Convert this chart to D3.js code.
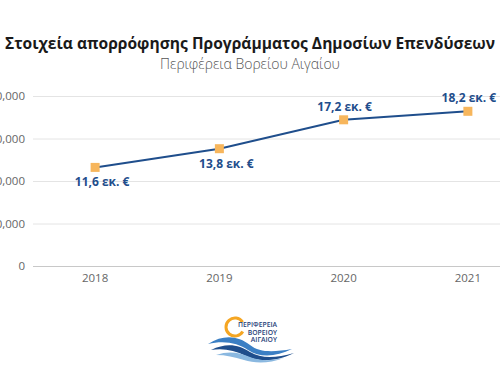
<!DOCTYPE html>
<html>
<head>
<meta charset="utf-8">
<script src="https://cdn.jsdelivr.net/npm/d3@7"></script>
<style>
  body { margin: 0; background: #fff; }
  svg text { font-family: "Open Sans", "Noto Sans", sans-serif; }
</style>
</head>
<body>
<svg id="chart" width="500" height="374"></svg>
<script>
var years = ['2018', '2019', '2020', '2021'];
var values = [11600000, 13800000, 17200000, 18200000];
var labels = ['11,6 εκ. €', '13,8 εκ. €', '17,2 εκ. €', '18,2 εκ. €'];
var yTicks = [0, 5000000, 10000000, 15000000, 20000000];

var svg = d3.select('#chart');
var mLeft = 33, mRight = 530, mTop = 96, mBottom = 266;

var x = d3.scaleBand().domain(years).range([mLeft, mRight]);
var y = d3.scaleLinear().domain([0, 20000000]).range([mBottom, mTop]);
var cx = function(d) { return x(d) + x.bandwidth() / 2; };

// title
svg.append('text').attr('x', 250).attr('y', 49).attr('text-anchor', 'middle')
    .attr('font-size', 16).attr('font-weight', 700).attr('fill', '#1a1a1a')
    .attr('textLength', 490).attr('lengthAdjust', 'spacingAndGlyphs')
    .text('Στοιχεία απορρόφησης Προγράμματος Δημοσίων Επενδύσεων');
svg.append('text').attr('x', 250).attr('y', 69).attr('text-anchor', 'middle')
    .attr('font-size', 14).attr('font-weight', 300).attr('fill', '#555')
    .text('Περιφέρεια Βορείου Αιγαίου');

// grid + y axis
var yAxis = d3.axisLeft(y).tickValues(yTicks).tickSize(-(mRight - mLeft))
    .tickFormat(d3.format(',')).tickPadding(8);
var gy = svg.append('g').attr('transform', 'translate(' + mLeft + ',0)').call(yAxis);
gy.select('.domain').remove();
gy.selectAll('.tick line').attr('stroke', function(d) { return d === 0 ? '#c8c8c8' : '#e4e4e4'; });
gy.selectAll('.tick text').attr('fill', '#666').attr('font-size', 11.5);

// x axis labels
var xAxis = d3.axisBottom(x).tickSize(0).tickPadding(8);
var gx = svg.append('g').attr('transform', 'translate(0,' + mBottom + ')').call(xAxis);
gx.select('.domain').remove();
gx.selectAll('.tick text').attr('fill', '#666').attr('font-size', 11.5);

// line
var pts = years.map(function(d, i) { return [cx(d), y(values[i])]; });
svg.append('path').datum(pts)
    .attr('d', d3.line())
    .attr('fill', 'none').attr('stroke', '#1f4e8c').attr('stroke-width', 2);

// markers
svg.selectAll('rect.pt').data(pts).enter().append('rect')
    .attr('x', function(d) { return d[0] - 4.5; })
    .attr('y', function(d) { return d[1] - 4.5; })
    .attr('width', 9).attr('height', 9)
    .attr('fill', '#f7b65c');

// data labels: first two below, last two above
svg.selectAll('text.lbl').data(pts).enter().append('text')
    .attr('x', function(d, i) { return d[0] + (i < 2 ? 7 : 1); })
    .attr('y', function(d, i) { return i < 2 ? d[1] + 19 : d[1] - 9; })
    .attr('text-anchor', 'middle')
    .attr('font-size', 12).attr('font-weight', 700).attr('fill', '#1f4e8c')
    .text(function(d, i) { return labels[i]; });

// logo
var logo = svg.append('g').attr('transform', 'translate(208,316)');
logo.append('path')
    .attr('d', d3.arc()({ innerRadius: 7.5, outerRadius: 10.5, startAngle: 2.1, endAngle: 2 * Math.PI + 1.0 }))
    .attr('transform', 'translate(27,11)').attr('fill', '#f5a623');
logo.append('path').attr('d', 'M0,28 C16,18 30,20 42,29 C52,37 66,36 84,33 C68,41 52,42 40,34 C30,27 16,24 0,28 Z').attr('fill', '#3b7fc4');
logo.append('path').attr('d', 'M3,34 C19,26 31,29 42,36 C54,43 68,42 86,37 C68,46 50,46 38,40 C26,34 15,32 3,34 Z').attr('fill', '#1f4e8c');
logo.append('path').attr('d', 'M8,39 C22,34 32,37 42,41 C52,45 62,45 76,42 C60,48 46,47 36,44 C26,41 18,39 8,39 Z').attr('fill', '#8ab8e0');
var lt = ['ΠΕΡΙΦΕΡΕΙΑ', 'ΒΟΡΕΙΟΥ', 'ΑΙΓΑΙΟΥ'];
logo.selectAll('text.lg').data(lt).enter().append('text')
    .attr('x', 69)
    .attr('y', function(d, i) { return 11 + i * 7.5; })
    .attr('text-anchor', 'end')
    .attr('font-size', 6.8).attr('font-weight', 600).attr('fill', '#1f3f7a')
    .text(function(d) { return d; });
</script>
</body>
</html>
